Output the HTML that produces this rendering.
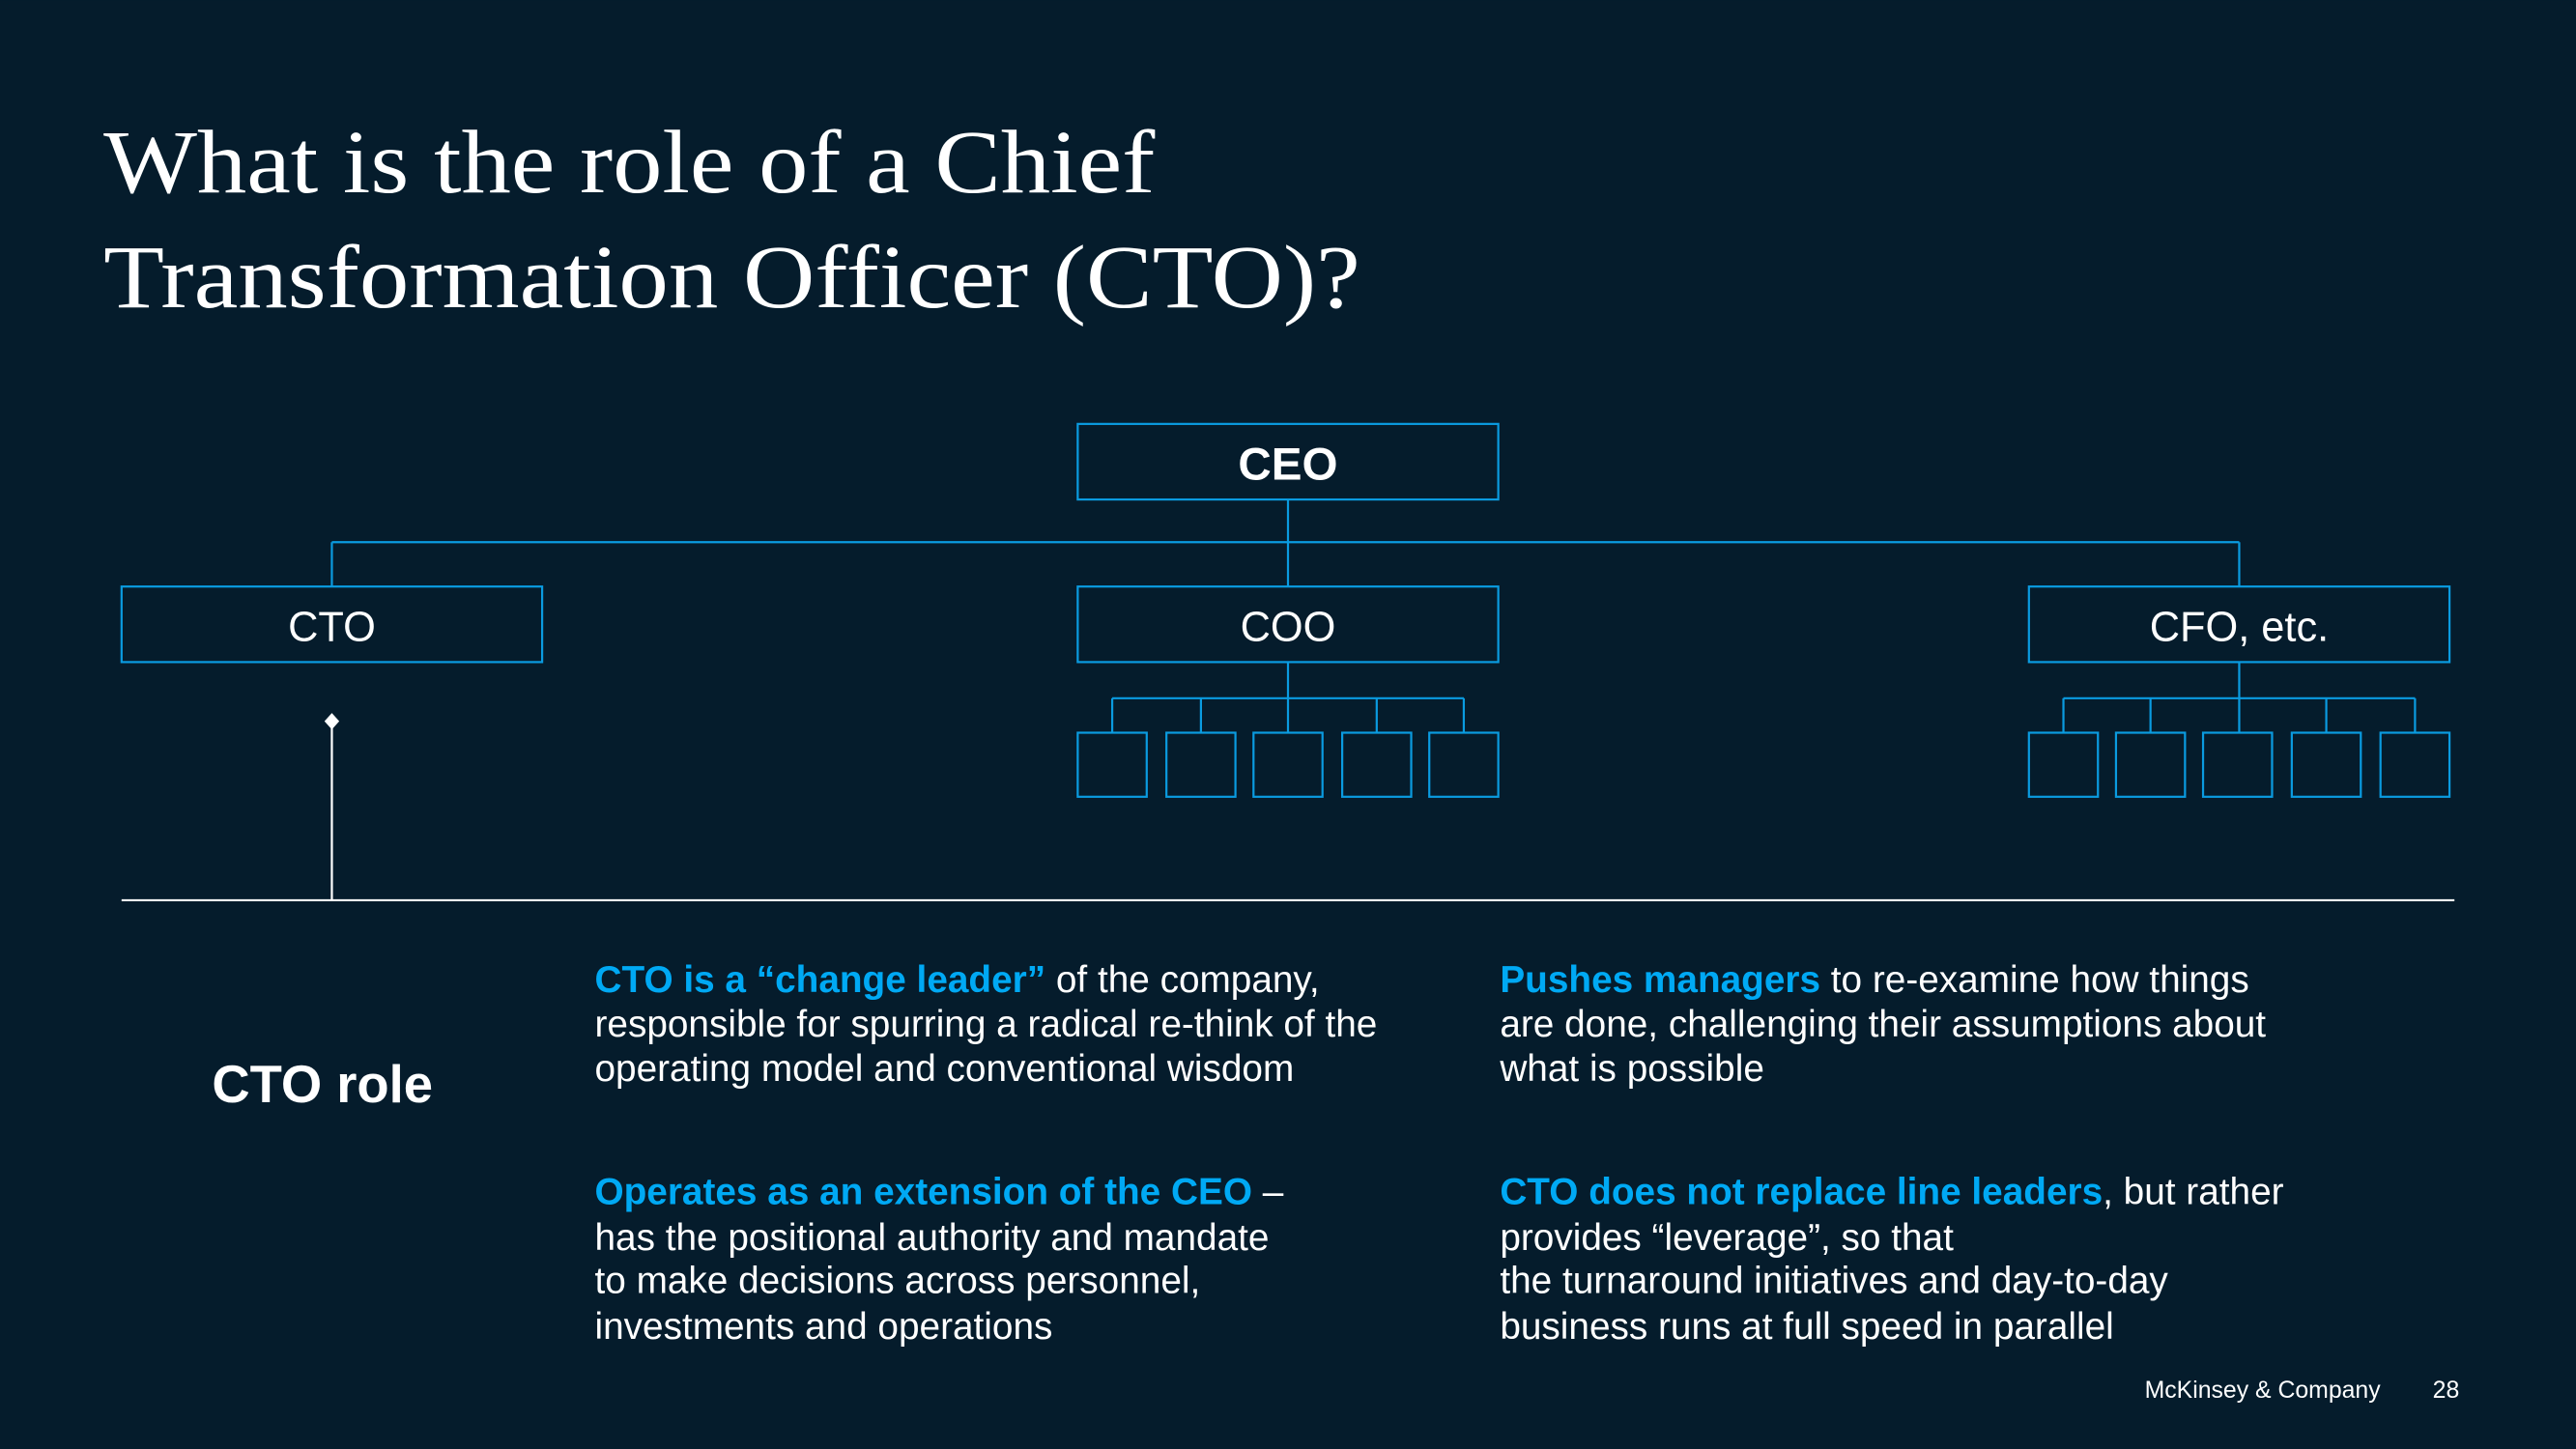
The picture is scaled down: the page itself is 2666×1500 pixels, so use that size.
<!DOCTYPE html>
<html><head><meta charset="utf-8"><style>
html,body{margin:0;padding:0;background:#051c2c;}
svg{display:block;}
.s{font-family:"Liberation Serif",serif;fill:#fff;}
.t{font-family:"Liberation Sans",Arial,sans-serif;fill:#fff;}
.b{fill:#00a9f4;font-weight:bold;}
.box{fill:none;stroke:#0a9be0;stroke-width:1.3;}
.ln{stroke:#0a9be0;stroke-width:1.3;fill:none;}
</style></head><body>
<svg width="2666" height="1500" viewBox="0 0 1568 882" xmlns="http://www.w3.org/2000/svg">
<rect width="1568" height="882" fill="#051c2c"/>
<g>
<text class="s" x="63" y="117" font-size="55" textLength="640" lengthAdjust="spacingAndGlyphs">What is the role of a Chief</text>
<text class="s" x="63" y="187" font-size="55" textLength="765" lengthAdjust="spacingAndGlyphs">Transformation Officer (CTO)?</text>
</g>
<g>
<line class="ln" x1="784" y1="304" x2="784" y2="357"/>
<line class="ln" x1="202" y1="330" x2="1363" y2="330"/>
<line class="ln" x1="202" y1="330" x2="202" y2="357"/>
<line class="ln" x1="1363" y1="330" x2="1363" y2="357"/>
<rect class="box" x="656" y="258" width="256" height="46"/>
<text class="t" x="784" y="292" font-size="28" font-weight="bold" text-anchor="middle">CEO</text>
<rect class="box" x="74" y="357" width="256" height="46"/>
<text class="t" x="202" y="390" font-size="25.5" text-anchor="middle">CTO</text>
<rect class="box" x="656" y="357" width="256" height="46"/>
<text class="t" x="784" y="390" font-size="25.5" text-anchor="middle">COO</text>
<rect class="box" x="1235" y="357" width="256" height="46"/>
<text class="t" x="1363" y="390" font-size="25.5" text-anchor="middle">CFO, etc.</text>
<g>
<line class="ln" x1="784" y1="403" x2="784" y2="446"/>
<line class="ln" x1="677" y1="425" x2="891" y2="425"/>
<line class="ln" x1="677" y1="425" x2="677" y2="446"/><line class="ln" x1="731" y1="425" x2="731" y2="446"/><line class="ln" x1="838" y1="425" x2="838" y2="446"/><line class="ln" x1="891" y1="425" x2="891" y2="446"/>
<rect class="box" x="656" y="446" width="42" height="39"/><rect class="box" x="710" y="446" width="42" height="39"/><rect class="box" x="763" y="446" width="42" height="39"/><rect class="box" x="817" y="446" width="42" height="39"/><rect class="box" x="870" y="446" width="42" height="39"/>
</g>
<g>
<line class="ln" x1="1363" y1="403" x2="1363" y2="446"/>
<line class="ln" x1="1256" y1="425" x2="1470" y2="425"/>
<line class="ln" x1="1256" y1="425" x2="1256" y2="446"/><line class="ln" x1="1309" y1="425" x2="1309" y2="446"/><line class="ln" x1="1416" y1="425" x2="1416" y2="446"/><line class="ln" x1="1470" y1="425" x2="1470" y2="446"/>
<rect class="box" x="1235" y="446" width="42" height="39"/><rect class="box" x="1288" y="446" width="42" height="39"/><rect class="box" x="1341" y="446" width="42" height="39"/><rect class="box" x="1395" y="446" width="42" height="39"/><rect class="box" x="1449" y="446" width="42" height="39"/>
</g>
</g>
<g>
<line x1="202" y1="440" x2="202" y2="548" stroke="#fff" stroke-width="1.3"/>
<polygon points="202,434 206.5,439 202,444 197.5,439" fill="#fff"/>
</g>
<line x1="74" y1="548" x2="1494" y2="548" stroke="#fff" stroke-width="1.3"/>
<text class="t" x="129" y="671" font-size="32" font-weight="bold">CTO role</text>
<g class="t" font-size="22.8">
<text x="362" y="604"><tspan class="b">CTO is a “change leader”</tspan> of the company,</text>
<text x="362" y="631">responsible for spurring a radical re-think of the</text>
<text x="362" y="658">operating model and conventional wisdom</text>
</g>
<g class="t" font-size="22.8">
<text x="913" y="604"><tspan class="b">Pushes managers</tspan> to re-examine how things</text>
<text x="913" y="631">are done, challenging their assumptions about</text>
<text x="913" y="658">what is possible</text>
</g>
<g class="t" font-size="22.8">
<text x="362" y="733"><tspan class="b">Operates as an extension of the CEO</tspan> –</text>
<text x="362" y="761">has the positional authority and mandate</text>
<text x="362" y="787">to make decisions across personnel,</text>
<text x="362" y="815">investments and operations</text>
</g>
<g class="t" font-size="22.8">
<text x="913" y="733"><tspan class="b">CTO does not replace line leaders</tspan>, but rather</text>
<text x="913" y="761">provides “leverage”, so that</text>
<text x="913" y="787">the turnaround initiatives and day-to-day</text>
<text x="913" y="815">business runs at full speed in parallel</text>
</g>
<text class="t" x="1449" y="851" font-size="14.6" text-anchor="end">McKinsey &amp; Company</text>
<text class="t" x="1497" y="851" font-size="14.6" text-anchor="end">28</text>
</svg>
</body></html>
